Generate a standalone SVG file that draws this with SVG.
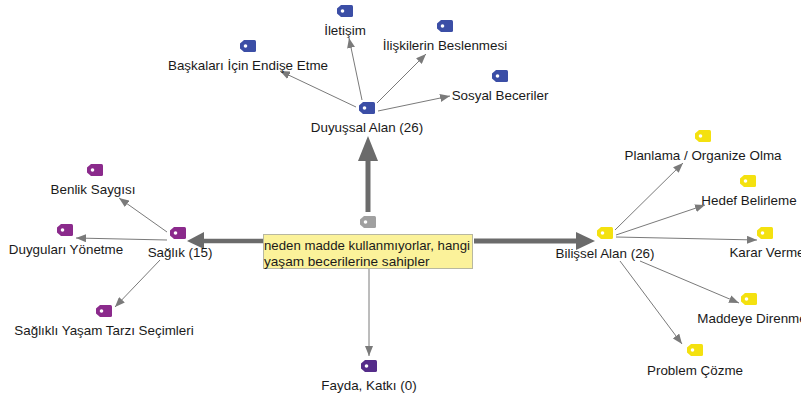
<svg xmlns="http://www.w3.org/2000/svg" width="801" height="398" viewBox="0 0 801 398">
<style>
text{font-family:"Liberation Sans",Arial,sans-serif;font-size:13.4px;fill:#1a1a1a;text-anchor:middle}
.r{font-size:13.6px;text-anchor:start}
.c{stroke:#7a7a7a;stroke-width:1;fill:none}
.t{stroke:#6b6b6b;fill:none}
.blue{fill:#3b4ea6}.pur{fill:#8b2a8c}.dpur{fill:#552c8a}.yel{fill:#f4e10f}.gry{fill:#a0a0a0}
</style>
<defs>
<marker id="a" viewBox="0 0 10 8" refX="10" refY="4" markerWidth="10" markerHeight="8" markerUnits="userSpaceOnUse" orient="auto">
<path d="M0,0 L10,4 L0,8 Z" fill="#7a7a7a"/>
</marker>
<symbol id="tag" viewBox="0 0 16 12">
<path d="M4,0 H14.5 Q16,0 16,1.5 V10.5 Q16,12 14.5,12 H4 L0,8.5 V3.5 Z"/>
<circle cx="5.5" cy="6" r="1.8" fill="#fff"/>
</symbol>
</defs>
<g id="connectors">
<path class="t" d="M368,212 V160" stroke-width="5"/>
<path d="M358,161 L368,136 L378,161 Z" fill="#6b6b6b"/>
<path class="t" d="M263,241 H200" stroke-width="4.5"/>
<path d="M204,232 L187,241 L204,249 Z" fill="#6b6b6b"/>
<path class="t" d="M474,241 H578" stroke-width="5"/>
<path d="M576,232 L595,241 L576,250 Z" fill="#6b6b6b"/>
<line class="c" x1="362" y1="100" x2="349" y2="38" marker-end="url(#a)"/>
<line class="c" x1="377" y1="103" x2="426" y2="54" marker-end="url(#a)"/>
<line class="c" x1="356" y1="107" x2="280" y2="71" marker-end="url(#a)"/>
<line class="c" x1="378" y1="111" x2="450" y2="96" marker-end="url(#a)"/>
<line class="c" x1="615" y1="230" x2="683" y2="163" marker-end="url(#a)"/>
<line class="c" x1="616" y1="235" x2="705" y2="205" marker-end="url(#a)"/>
<line class="c" x1="616" y1="237" x2="757" y2="240" marker-end="url(#a)"/>
<line class="c" x1="640" y1="261" x2="739" y2="303" marker-end="url(#a)"/>
<line class="c" x1="620" y1="261" x2="682" y2="344" marker-end="url(#a)"/>
<line class="c" x1="167" y1="232" x2="119" y2="198" marker-end="url(#a)"/>
<line class="c" x1="167" y1="240" x2="76" y2="238" marker-end="url(#a)"/>
<line class="c" x1="160" y1="260" x2="115" y2="307" marker-end="url(#a)"/>
<line class="c" x1="369" y1="268" x2="369" y2="356" marker-end="url(#a)"/>
</g>
<g id="root">
<use href="#tag" class="gry" x="360" y="216" width="16" height="12"/>
<rect x="263.5" y="234.5" width="209" height="34" fill="#fbf29a" stroke="#b8b8a0" stroke-width="1"/>
<text class="r" x="264" y="249.5" textLength="206" lengthAdjust="spacingAndGlyphs">neden madde kullanmıyorlar, hangi</text>
<text class="r" x="264" y="266">yaşam becerilerine sahipler</text>
</g>
<g id="duyussal">
<use href="#tag" class="blue" x="359" y="102" width="16" height="12"/>
<text x="367" y="132">Duyuşsal Alan (26)</text>
</g>
<g id="iletisim">
<use href="#tag" class="blue" x="337" y="5" width="16" height="12"/>
<text x="345" y="35">İletişim</text>
</g>
<g id="iliskiler">
<use href="#tag" class="blue" x="437" y="20" width="16" height="12"/>
<text x="445" y="50">İlişkilerin Beslenmesi</text>
</g>
<g id="baskalari">
<use href="#tag" class="blue" x="240" y="40" width="16" height="12"/>
<text x="248" y="70">Başkaları İçin Endişe Etme</text>
</g>
<g id="sosyal">
<use href="#tag" class="blue" x="492" y="70" width="16" height="12"/>
<text x="500" y="100">Sosyal Beceriler</text>
</g>
<g id="bilissel">
<use href="#tag" class="yel" x="597" y="227" width="16" height="12"/>
<text x="605" y="258">Bilişsel Alan (26)</text>
</g>
<g id="planlama">
<use href="#tag" class="yel" x="695" y="130" width="16" height="12"/>
<text x="703" y="160">Planlama / Organize Olma</text>
</g>
<g id="hedef">
<use href="#tag" class="yel" x="740" y="175" width="16" height="12"/>
<text x="749" y="205">Hedef Belirleme</text>
</g>
<g id="karar">
<use href="#tag" class="yel" x="757" y="227" width="16" height="12"/>
<text x="767" y="257">Karar Verme</text>
</g>
<g id="maddeye">
<use href="#tag" class="yel" x="741" y="293" width="16" height="12"/>
<text x="752" y="323">Maddeye Direnme</text>
</g>
<g id="problem">
<use href="#tag" class="yel" x="687" y="344" width="16" height="12"/>
<text x="695" y="375">Problem Çözme</text>
</g>
<g id="saglik">
<use href="#tag" class="pur" x="170" y="227" width="16" height="12"/>
<text x="180" y="257">Sağlık (15)</text>
</g>
<g id="benlik">
<use href="#tag" class="pur" x="87" y="164" width="16" height="12"/>
<text x="93" y="194">Benlik Saygısı</text>
</g>
<g id="duygulari">
<use href="#tag" class="pur" x="57" y="224" width="16" height="12"/>
<text x="66" y="254">Duyguları Yönetme</text>
</g>
<g id="saglikli">
<use href="#tag" class="pur" x="96" y="305" width="16" height="12"/>
<text x="104" y="335">Sağlıklı Yaşam Tarzı Seçimleri</text>
</g>
<g id="fayda">
<use href="#tag" class="dpur" x="361" y="360" width="16" height="12"/>
<text x="369" y="390">Fayda, Katkı (0)</text>
</g>
</svg>
